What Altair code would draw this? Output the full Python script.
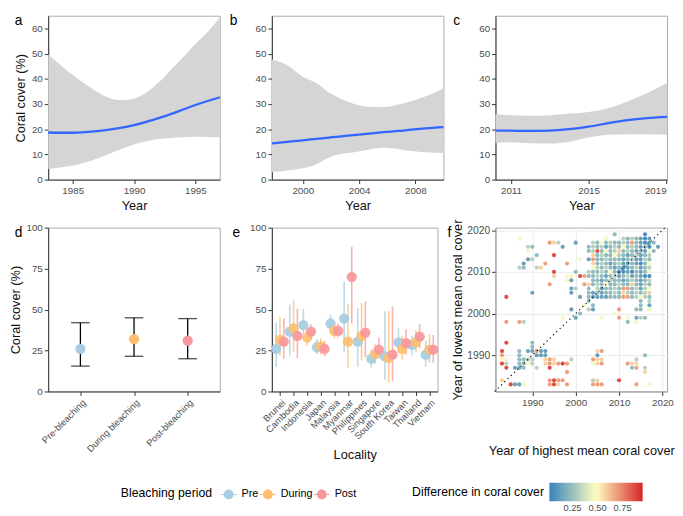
import json
import altair as alt
import pandas as pd

FONT = "Arial"
GREY_TXT = "#4d4d4d"

# ---------------- panel a (smooth fit with 95% band)
a_year = [1983, 1984, 1985, 1986, 1987, 1988, 1989, 1990, 1991, 1992, 1993, 1994, 1995, 1996, 1997]
a_fit = [18.7, 18.6, 18.6, 18.8, 19.2, 19.8, 20.6, 21.6, 22.9, 24.4, 26.0, 27.8, 29.6, 31.2, 32.7]
a_upper = [49.7, 45.5, 41.5, 38.0, 34.8, 32.4, 31.5, 32.2, 34.5, 38.5, 43.5, 48.6, 53.8, 58.6, 64.3]
a_lower = [4.2, 4.8, 5.6, 6.8, 8.4, 10.3, 12.3, 13.9, 15.2, 16.1, 16.5, 16.8, 17.0, 16.9, 16.8]
a_domain = [1983, 1997]
a_ticks = [1985, 1990, 1995]

# ---------------- panel b
b_year = [1997.8, 1998.9, 2000.0, 2001.0, 2001.7, 2002.6, 2003.8, 2004.9, 2005.9, 2006.8, 2007.7, 2008.7, 2010.0]
b_fit = [14.4, 15.0, 15.6, 16.2, 16.6, 17.1, 17.8, 18.4, 18.9, 19.3, 19.8, 20.3, 20.8]
b_upper = [47.7, 45.4, 40.8, 38.2, 35.2, 32.4, 29.8, 28.8, 28.8, 29.8, 31.1, 33.0, 36.3]
b_lower = [2.9, 3.6, 4.5, 6.2, 8.4, 10.1, 11.0, 12.1, 12.6, 12.1, 11.4, 10.9, 10.6]
b_domain = [1997.8, 2010.0]
b_ticks = [2000, 2004, 2008]

# ---------------- panel c
c_year = [2010.2, 2011, 2012, 2013, 2014, 2015, 2016, 2017, 2018, 2019.05]
c_fit = [19.5, 19.4, 19.3, 19.4, 20.0, 21.0, 22.4, 23.6, 24.4, 24.9]
c_upper = [25.9, 25.5, 25.3, 25.5, 26.2, 26.8, 28.3, 31.0, 34.3, 38.3]
c_lower = [14.5, 14.8, 14.4, 14.3, 15.0, 16.7, 17.8, 18.0, 18.0, 17.8]
c_domain = [2010.2, 2019.05]
c_ticks = [2011, 2015, 2019]

# ---------------- panel d
periods = ["Pre", "During", "Post"]
period_colors = ["#a6cde2", "#fdbf6f", "#f7979b"]
d_labels = ["Pre-bleaching", "During bleaching", "Post-bleaching"]
d_mean = [26.0, 32.0, 31.0]
d_lo = [15.5, 21.5, 20.0]
d_hi = [42.0, 45.0, 44.5]

# ---------------- panel e
localities = ["Brunei", "Cambodia", "Indonesia", "Japan", "Malaysia", "Myanmar",
              "Philippines", "Singapore", "South Korea", "Taiwan", "Thailand", "Vietnam"]
e_pre_mean = [26.0, 36.5, 40.5, 27.0, 41.5, 44.5, 30.5, 20.0, 21.5, 30.0, 28.5, 22.5]
e_pre_lo = [15.0, 22.0, 35.0, 23.0, 36.0, 24.0, 15.0, 14.5, 7.0, 23.5, 22.0, 15.0]
e_pre_hi = [42.0, 53.0, 50.5, 32.0, 47.0, 67.0, 51.0, 25.5, 49.0, 39.0, 34.0, 31.0]
e_dur_mean = [31.5, 38.5, 33.0, 27.5, 37.0, 30.5, 34.0, 23.0, 20.5, 26.0, 30.0, 25.5]
e_dur_lo = [22.0, 24.0, 28.0, 22.5, 32.5, 14.5, 19.0, 17.0, 5.5, 19.5, 24.0, 17.5]
e_dur_hi = [45.5, 55.5, 37.5, 32.5, 42.0, 53.5, 54.0, 29.0, 49.0, 34.0, 37.5, 35.0]
e_post_mean = [30.5, 34.0, 36.5, 26.0, 37.0, 70.0, 36.0, 25.5, 22.5, 29.5, 33.5, 25.5]
e_post_lo = [20.0, 20.5, 32.0, 21.5, 33.0, 41.5, 21.0, 20.0, 6.5, 22.5, 26.5, 17.5]
e_post_hi = [44.5, 50.5, 41.0, 31.0, 41.5, 88.5, 55.0, 33.0, 52.0, 38.0, 41.0, 34.5]
e_dodge = [-0.28, 0.0, 0.28]

# ---------------- panel f
f_code_value = {"B": 0.06, "b": 0.14, "g": 0.23, "G": 0.32, "c": 0.46, "p": 0.58, "o": 0.69, "r": 0.87}
f_cluster_x0 = 2003  # first column of each row string, one column per year
f_cluster_rows = {
    2019: "......g......B...",
    2018: "....c...GgGgbBb..",
    2017: ".GgcgGggGgogbBbg.",
    2016: "gGgGbgGgcgGgbgB.b",
    2015: "gGrgcgGpgGgbgbcg.",
    2014: ".pgGggcGgbgGbgG..",
    2013: "boggGgggbgGbbGg..",
    2012: ".pgGgbgGbbgbBgc..",
    2011: ".cGgGgbgBbgGbgG..",
    2010: "GggGgcgBBbBgbgc..",
    2009: "ggGgbgGbgGbgbBB..",
    2008: ".ggbgGggbgGgbgG..",
    2007: "pgGgcggGggpgbGg..",
    2006: "g.GbggGgoogGbGc..",
    2005: "gbgbggGgpGgGgGp..",
    2004: "gbbbbgggoogGcGg..",
    2003: "g...........g.G..",
    2002: ".g..........g.b..",
}
f_extra = [
    (1987, 2018, "c"), (1989, 2016, "G"), (1990, 2016, "g"), (1989, 2015, "c"), (1991, 2014, "g"),
    (1989, 2013, "b"), (1990, 2013, "G"), (1988, 2012, "b"), (1987, 2011, "G"), (1988, 2011, "g"),
    (1991, 2011, "G"), (1992, 2011, "p"), (1993, 2012, "o"), (1994, 2017, "o"), (1995, 2017, "p"),
    (1996, 2017, "G"), (1995, 2014, "r"), (1997, 2016, "b"), (2000, 2017, "b"), (1995, 2010, "r"),
    (1995, 2009, "p"), (1998, 2012, "o"), (1994, 2007, "o"), (1998, 2009, "c"), (1999, 2009, "c"),
    (1998, 2008, "c"), (1999, 2008, "b"), (2001, 2009, "r"), (2002, 2009, "o"), (2000, 2010, "g"),
    (1999, 2006, "b"), (2000, 2006, "G"), (2001, 2013, "c"), (1999, 2005, "b"), (2001, 2004, "b"),
    (2002, 2007, "o"), (1990, 2005, "b"), (1984, 2004, "r"),
    (1999, 2001, "b"), (2000, 1999, "b"), (2001, 2000, "g"), (2002, 2002, "c"), (2003, 2001, "G"),
    (2004, 2001, "b"), (1997, 1999, "c"), (1984, 1998, "o"), (1987, 1998, "o"), (1988, 1998, "G"),
    (1984, 1993, "r"), (2006, 1999, "c"), (2010, 2001, "o"), (2010, 1999, "o"), (2009, 2000, "c"),
    (2012, 1999, "c"), (2012, 1998, "g"), (2014, 1999, "b"), (2015, 1999, "G"), (2016, 1999, "g"),
    (2015, 2001, "g"), (2014, 2001, "g"), (2017, 2001, "c"), (2014, 1998, "c"),
    (1990, 1993, "g"), (1990, 1992, "g"), (1989, 1991, "b"), (1990, 1991, "b"), (1991, 1991, "o"),
    (1992, 1991, "b"), (1993, 1991, "b"), (1991, 1990, "b"), (1992, 1990, "b"), (1993, 1990, "b"),
    (1987, 1991, "g"), (1987, 1990, "g"), (1987, 1989, "g"), (1988, 1989, "g"), (1989, 1989, "G"),
    (1990, 1989, "G"), (1987, 1988, "g"), (1988, 1988, "g"), (1989, 1988, "c"), (1990, 1988, "G"),
    (1986, 1987, "b"), (1987, 1987, "b"), (1988, 1987, "g"), (1991, 1987, "G"),
    (1983, 1991, "r"), (1983, 1990, "o"), (1984, 1989, "c"), (1983, 1989, "c"), (1984, 1988, "G"),
    (1983, 1988, "r"), (1984, 1987, "r"),
    (1993, 1989, "p"), (1994, 1989, "o"), (1995, 1989, "p"), (1993, 1988, "p"), (1994, 1988, "o"),
    (1995, 1988, "p"), (1994, 1987, "r"), (1996, 1988, "o"), (1997, 1988, "r"), (1998, 1988, "o"),
    (1999, 1989, "G"), (1998, 1986, "o"),
    (1983, 1984, "p"), (1985, 1983, "r"), (1986, 1983, "b"), (1987, 1983, "b"), (1988, 1983, "c"),
    (1994, 1984, "o"), (1995, 1984, "r"), (1996, 1984, "o"), (1997, 1984, "o"), (1994, 1983, "o"),
    (1995, 1983, "r"), (1996, 1983, "p"), (1998, 1983, "o"),
    (2005, 1991, "p"), (2006, 1991, "o"), (2005, 1990, "b"), (2004, 1989, "o"), (2005, 1989, "p"),
    (2006, 1989, "p"), (2004, 1988, "c"), (2005, 1988, "p"), (2006, 1988, "o"),
    (2004, 1984, "G"), (2005, 1984, "p"), (2004, 1983, "o"), (2005, 1983, "o"), (2006, 1983, "o"),
    (2010, 1984, "r"),
    (2012, 1988, "o"), (2013, 1988, "p"), (2014, 1988, "p"), (2013, 1987, "g"), (2014, 1987, "o"),
    (2014, 1989, "G"), (2016, 1990, "g"), (2016, 1987, "G"), (2016, 1986, "p"), (2014, 1983, "o"),
    (2017, 1983, "c"),
]
f_diag = [1981.3, 2020.6]
f_xdomain = [1981.5, 2021.1]
f_ydomain = [1981.3, 2020.6]
f_ticks = [1990, 2000, 2010, 2020]
diff_domain = [0.02, 0.485, 0.95]
diff_colors = ["#2c7bb6", "#ffffbf", "#d7191c"]

# ---------------- layout sizes
W, H = 175, 167


def letter(ch, dx, dy=-2):
    return alt.Chart(pd.DataFrame({"t": [ch]})).mark_text(
        align="left", baseline="top", fontSize=14, font=FONT, color="black"
    ).encode(text="t:N", x=alt.value(dx), y=alt.value(dy))


def smooth_panel(years, fit, lo, hi, domain, ticks, ch, dx, ytitle, flush=False):
    df = pd.DataFrame({"year": years, "fit": fit, "lo": lo, "hi": hi})
    x = alt.X("year:Q", scale=alt.Scale(domain=domain, nice=False, zero=False),
              axis=alt.Axis(values=ticks, format="d", title="Year", labelFlush=flush))
    yaxis = alt.Axis(values=[0, 10, 20, 30, 40, 50, 60], title=ytitle)
    yscale = alt.Scale(domain=[0, 65], nice=False)
    band = alt.Chart(df).mark_area(color="#d5d5d5", interpolate="monotone").encode(
        x=x, y=alt.Y("lo:Q", scale=yscale, axis=yaxis), y2="hi:Q")
    line = alt.Chart(df).mark_line(color="#3366ff", strokeWidth=2.3, interpolate="monotone").encode(
        x=x, y=alt.Y("fit:Q", scale=yscale, axis=yaxis))
    return alt.layer(band, line, letter(ch, dx)).properties(width=W, height=H)


pa = smooth_panel(a_year, a_fit, a_lower, a_upper, a_domain, a_ticks, "a", -34, "Coral cover (%)")
pb = smooth_panel(b_year, b_fit, b_lower, b_upper, b_domain, b_ticks, "b", -43, None)
pc = smooth_panel(c_year, c_fit, c_lower, c_upper, c_domain, c_ticks, "c", -43, None, flush=True)

# legend symbol: dot with a thin horizontal bar through it
sym = "M0.62,0A0.62,0.62,0,1,1,-0.62,0A0.62,0.62,0,1,1,0.62,0Z M-1,-0.07H1V0.07H-1Z"
fill_enc = alt.Fill(
    "period:N", sort=periods,
    scale=alt.Scale(domain=periods, range=period_colors),
    legend=alt.Legend(title="Bleaching period", orient="none", direction="horizontal",
                      legendX=74, legendY=480, titleOrient="left", titleFontSize=12.5,
                      titleFontWeight="normal", titleColor="black", labelFontSize=11,
                      labelColor="black", symbolType=sym, symbolSize=256,
                      symbolStrokeWidth=0, labelOffset=5, columnPadding=1,
                      titlePadding=8),
)

# ---------------- panel d
d_df = pd.DataFrame({"label": d_labels, "period": periods, "mean": d_mean, "lo": d_lo, "hi": d_hi})
d_x = alt.X("label:N", sort=d_labels, scale=alt.Scale(type="point", padding=0.6),
            axis=alt.Axis(title=None, labelAngle=-45, labelAlign="right", labelBaseline="top",
                          labelFontSize=9.5))
d_yscale = alt.Scale(domain=[0, 100], nice=False)
d_yaxis = alt.Axis(values=[0, 25, 50, 75, 100], title="Coral cover (%)")
d_rule = alt.Chart(d_df).mark_rule(color="black", strokeWidth=1.3).encode(
    x=d_x, y=alt.Y("lo:Q", scale=d_yscale, axis=d_yaxis), y2="hi:Q")
d_cap_lo = alt.Chart(d_df).mark_tick(color="black", thickness=1.3, size=19).encode(
    x=d_x, y=alt.Y("lo:Q", scale=d_yscale, axis=d_yaxis))
d_cap_hi = alt.Chart(d_df).mark_tick(color="black", thickness=1.3, size=19).encode(
    x=d_x, y=alt.Y("hi:Q", scale=d_yscale, axis=d_yaxis))
d_pts = alt.Chart(d_df).mark_circle(size=110, opacity=1).encode(
    x=d_x, y=alt.Y("mean:Q", scale=d_yscale, axis=d_yaxis), fill=fill_enc)
pd_ = alt.layer(d_rule, d_cap_lo, d_cap_hi, d_pts, letter("d", -34)).properties(width=W, height=H)

# ---------------- panel e
e_rows = []
series = [(e_pre_mean, e_pre_lo, e_pre_hi), (e_dur_mean, e_dur_lo, e_dur_hi), (e_post_mean, e_post_lo, e_post_hi)]
for k, (m, lo, hi) in enumerate(series):
    for i, loc in enumerate(localities):
        e_rows.append({"pos": i + e_dodge[k], "period": periods[k], "order": k,
                       "mean": m[i], "lo": lo[i], "hi": hi[i]})
e_df = pd.DataFrame(e_rows)
label_expr = json.dumps(localities) + "[datum.value]"
e_x = alt.X("pos:Q", scale=alt.Scale(domain=[-0.6, len(localities) - 0.4], nice=False, zero=False),
            axis=alt.Axis(values=list(range(len(localities))), labelExpr=label_expr, title="Locality",
                          labelAngle=-45, labelAlign="right", labelBaseline="top", labelFontSize=9.5,
                          labelOverlap=False, titlePadding=8))
e_yscale = alt.Scale(domain=[0, 100], nice=False)
e_yaxis = alt.Axis(values=[0, 25, 50, 75, 100], title=None)
e_rule = alt.Chart(e_df).mark_rule(strokeWidth=1.6, opacity=0.75).encode(
    x=e_x, y=alt.Y("lo:Q", scale=e_yscale, axis=e_yaxis), y2="hi:Q",
    stroke=alt.Stroke("period:N", sort=periods, scale=alt.Scale(domain=periods, range=period_colors),
                      legend=None))
e_pts = alt.Chart(e_df).mark_circle(size=110, opacity=0.92).encode(
    x=e_x, y=alt.Y("mean:Q", scale=e_yscale, axis=e_yaxis), fill=fill_enc, order="order:Q")
pe = alt.layer(e_rule, e_pts, letter("e", -40)).properties(width=169, height=H)

# ---------------- panel f
f_rows = []
for yr, row in f_cluster_rows.items():
    for j, code in enumerate(row):
        if code != ".":
            f_rows.append({"hi_year": f_cluster_x0 + j, "lo_year": yr, "diff": f_code_value[code]})
for xv, yv, code in f_extra:
    f_rows.append({"hi_year": xv, "lo_year": yv, "diff": f_code_value[code]})
f_df = pd.DataFrame(f_rows)
f_x = alt.X("hi_year:Q", scale=alt.Scale(domain=f_xdomain, nice=False, zero=False),
            axis=alt.Axis(values=f_ticks, format="d", title="Year of highest mean coral cover",
                          grid=True, gridColor="#ebebeb", domainColor="#9a9a9a", titlePadding=38))
f_y = alt.Y("lo_year:Q", scale=alt.Scale(domain=f_ydomain, nice=False, zero=False),
            axis=alt.Axis(values=f_ticks, format="d", title="Year of lowest mean coral cover",
                          grid=True, gridColor="#ebebeb", domainColor="#9a9a9a", labelFontSize=10.5,
                          titlePadding=2))
f_pts = alt.Chart(f_df).mark_circle(size=18, opacity=0.95).encode(
    x=f_x, y=f_y,
    color=alt.Color("diff:Q", scale=alt.Scale(domain=diff_domain, range=diff_colors, interpolate="rgb"),
                    legend=alt.Legend(title="Difference in coral cover", orient="none",
                                      direction="horizontal", legendX=371, legendY=476,
                                      titleOrient="left", titleFontSize=12.5,
                                      titleFontWeight="normal", titleColor="black",
                                      gradientLength=95, gradientThickness=19,
                                      values=[0.25, 0.5, 0.75], format=".2f",
                                      labelFontSize=9.5, labelColor=GREY_TXT,
                                      gradientStrokeWidth=0, titlePadding=5)))
diag_df = pd.DataFrame({"hi_year": f_diag, "lo_year": f_diag})
f_diag_line = alt.Chart(diag_df).mark_line(color="black", strokeWidth=1.2, strokeDash=[1.2, 3.4]).encode(
    x="hi_year:Q", y="lo_year:Q")
pf = alt.layer(f_pts, f_diag_line, letter("f", -49)).properties(width=175, height=H)

chart = alt.concat(pa, pb, pc, pd_, pe, pf, columns=3, spacing={"row": 49, "column": 53},
                   bounds="flush").properties(
    padding={"left": 0, "top": 0, "right": 0, "bottom": 0}
).configure(font=FONT).configure_view(
    stroke="#a0a0a0", strokeWidth=0.9
).configure_axis(
    labelFont=FONT, titleFont=FONT, labelFontSize=10, labelColor=GREY_TXT,
    titleFontSize=13, titleFontWeight="normal", titleColor="#111111",
    tickColor="#333333", domainColor="#333333", grid=False, tickSize=4, labelPadding=2,
    labelFlush=False
).configure_legend(labelFont=FONT, titleFont=FONT)

chart.save("out.html", embed_options={"renderer": "svg", "actions": False})
